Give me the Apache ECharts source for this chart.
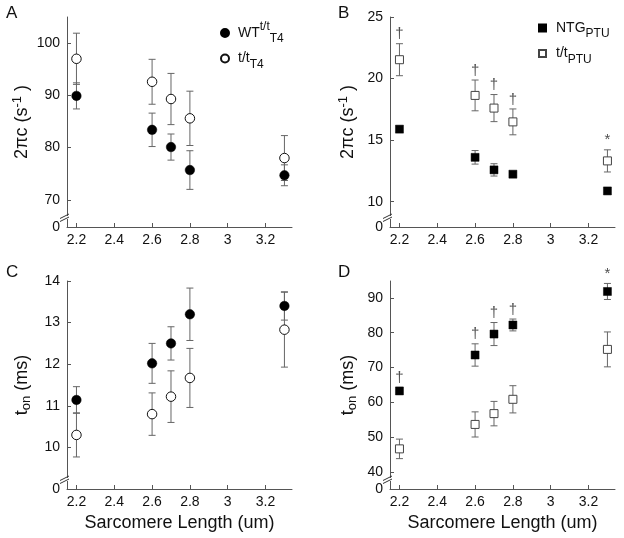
<!DOCTYPE html>
<html>
<head>
<meta charset="utf-8">
<script src="https://cdn.jsdelivr.net/npm/echarts@6/dist/echarts.min.js"></script>
<style>html,body{margin:0;padding:0;background:#fff}#c{width:624px;height:538px}</style>
</head>
<body>
<div id="c"></div>
<script>
// ---- data ----
const sarcomereLength = [2.2, 2.6, 2.7, 2.8, 3.3];
const xTicks = [2.2, 2.4, 2.6, 2.8, 3, 3.2];

// Panel A: 2πc (s^-1)
const wtRate = [89.9, 83.4, 80.1, 75.7, 74.7];
const wtRateErr = [2.5, 3.2, 2.5, 3.7, 2.0];
const ttRate = [97.0, 92.6, 89.3, 85.6, 78.0];
const ttRateErr = [4.9, 4.3, 4.9, 5.2, 4.3];
const ticksA = [70, 80, 90, 100];

// Panel B: 2πc (s^-1), PTU
const ntgRate = [15.89, 13.6, 12.58, 12.23, 10.87];
const ntgRateErr = [0.2, 0.55, 0.5, 0.15, 0.15];
const ttPtuRate = [21.53, 18.63, 17.6, 16.48, 13.31];
const ttPtuRateErr = [1.3, 1.25, 1.1, 1.05, 0.9];
const marksB = ['†', '†', '†', '†', '*'];
const ticksB = [10, 15, 20, 25];

// Panel C: t_on (ms)
const wtTon = [11.14, 12.02, 12.5, 13.2, 13.4];
const wtTonErr = [0.32, 0.48, 0.4, 0.63, 0.34];
const ttTon = [10.3, 10.8, 11.22, 11.67, 12.83];
const ttTonErr = [0.53, 0.51, 0.62, 0.71, 0.9];
const ticksC = [10, 11, 12, 13, 14];

// Panel D: t_on (ms), PTU
const ntgTon = [63.3, 73.6, 79.6, 82.2, 91.8];
const ntgTonErr = [1.0, 3.2, 3.3, 1.7, 2.3];
const ttPtuTon = [46.7, 53.7, 56.8, 60.9, 75.2];
const ttPtuTonErr = [2.8, 3.6, 3.5, 3.9, 5.0];
const marksD = ['†', '†', '†', '†', '*'];
const ticksD = [40, 50, 60, 70, 80, 90];

// broken-axis floors (labelled "0")
const yFloor = [64.8, 7.94, 9, 35.2];
const yCeil = [105, 25, 14, 94.8];
const xRange = [2.15, 3.34];

// ---- chart ----
const FONT = 'Liberation Sans, Arial, Helvetica, sans-serif';
const chart = echarts.init(document.getElementById('c'), null, {renderer: 'canvas'});

const grids = [
  {left: 67, top: 17, width: 225, height: 210},
  {left: 390, top: 17, width: 225, height: 210},
  {left: 67, top: 281, width: 225, height: 208},
  {left: 390, top: 281, width: 225, height: 208}
];
const yTicks = [ticksA, ticksB, ticksC, ticksD];
const yNames = ['2πc (s{sup|-1} )', '2πc (s{sup|-1} )', 't{sub|on} (ms)', 't{sub|on} (ms)'];
const AXIS_COLOR = '#555';

const xAxes = grids.map((g, i) => ({
  type: 'value', gridIndex: i, min: xRange[0], max: xRange[1],
  splitLine: {show: false},
  axisLine: {show: true, lineStyle: {color: AXIS_COLOR, width: 1}},
  axisTick: {show: true, inside: true, length: 4, customValues: xTicks, lineStyle: {color: AXIS_COLOR}},
  axisLabel: {customValues: xTicks, color: '#111', fontSize: 14, fontFamily: FONT, margin: 6,
              formatter: v => String(Math.round(v * 10) / 10)},
  name: i >= 2 ? 'Sarcomere Length (um)' : '',
  nameLocation: 'middle', nameGap: 25,
  nameTextStyle: {fontSize: 18, color: '#111', fontFamily: FONT}
}));

const yAxes = grids.map((g, i) => {
  const vals = [yFloor[i]].concat(yTicks[i]);
  return {
    type: 'value', gridIndex: i, min: yFloor[i], max: yCeil[i],
    splitLine: {show: false},
    axisLine: {show: true, lineStyle: {color: AXIS_COLOR, width: 1}},
    axisTick: {show: true, inside: true, length: 4, customValues: yTicks[i], lineStyle: {color: AXIS_COLOR}},
    axisLabel: {customValues: vals, color: '#111', fontSize: 14, fontFamily: FONT, margin: 7,
                formatter: v => (v <= yFloor[i] + 1e-9 ? '0' : String(v))},
    name: yNames[i], nameLocation: 'middle', nameGap: (i % 2 === 0) ? 34 : 31,
    nameTextStyle: {
      fontSize: 18, color: '#111', fontFamily: FONT, lineHeight: 22,
      rich: {
        sup: {fontSize: 13, fontFamily: FONT, color: '#111', verticalAlign: 'top', lineHeight: 12},
        sub: {fontSize: 13, fontFamily: FONT, color: '#111', verticalAlign: 'bottom', lineHeight: 12}
      }
    }
  };
});

function errData(vals, errs) {
  return sarcomereLength.map((x, k) => [x, vals[k] - errs[k], vals[k] + errs[k]]);
}
function errRender(params, api) {
  const x = api.value(0);
  const lo = api.coord([x, api.value(1)]);
  const hi = api.coord([x, api.value(2)]);
  const w = 3.5;
  const st = {stroke: '#666', lineWidth: 1};
  return {type: 'group', children: [
    {type: 'line', shape: {x1: lo[0], y1: lo[1], x2: hi[0], y2: hi[1]}, style: st},
    {type: 'line', shape: {x1: lo[0] - w, y1: lo[1], x2: lo[0] + w, y2: lo[1]}, style: st},
    {type: 'line', shape: {x1: hi[0] - w, y1: hi[1], x2: hi[0] + w, y2: hi[1]}, style: st}
  ]};
}
function errSeries(i, vals, errs) {
  return {type: 'custom', xAxisIndex: i, yAxisIndex: i, renderItem: errRender,
          data: errData(vals, errs), encode: {x: 0, y: [1, 2]}, z: 1, silent: true, clip: false};
}
function pts(vals) { return sarcomereLength.map((x, k) => [x, vals[k]]); }
function scatter(name, i, vals, symbol, filled) {
  const isSq = symbol === 'rect';
  return {
    type: 'scatter', name, xAxisIndex: i, yAxisIndex: i, data: pts(vals),
    symbol, symbolSize: isSq ? 8 : 9.5, z: 3, silent: true,
    itemStyle: filled ? {color: '#000', borderColor: '#000', borderWidth: 0.5, opacity: 1}
                      : {color: '#fff', borderColor: isSq ? '#444' : '#111', borderWidth: 1, opacity: 1}
  };
}
function sigSeries(i, vals, errs, marks) {
  return {
    type: 'scatter', xAxisIndex: i, yAxisIndex: i, z: 4, silent: true,
    data: sarcomereLength.map((x, k) => [x, vals[k] + errs[k], marks[k]]),
    symbolSize: 0, itemStyle: {color: 'rgba(0,0,0,0)'},
    label: {show: true, position: 'top', distance: 2, formatter: p => p.data[2],
            fontSize: 15, color: '#222', fontFamily: FONT}
  };
}

const legendRich = {
  m: {fontSize: 14, fontFamily: FONT, color: '#111', lineHeight: 24, verticalAlign: 'middle'},
  sup: {fontSize: 12, fontFamily: FONT, color: '#111', lineHeight: 12, verticalAlign: 'top'},
  sub: {fontSize: 12, fontFamily: FONT, color: '#111', lineHeight: 12, verticalAlign: 'bottom'}
};
const legendText = {
  wtA: '{m|WT}{sup|t/t}{sub|T4}',
  ttA: '{m|t/t}{sub|T4}',
  ntgB: '{m|NTG}{sub|PTU}',
  ttB: '{m|t/t}{sub|PTU}'
};

const option = {
  animation: false,
  backgroundColor: '#fff',
  textStyle: {fontFamily: FONT},
  title: [
    {text: 'A', left: 6, top: 5},
    {text: 'B', left: 338, top: 5},
    {text: 'C', left: 6, top: 264},
    {text: 'D', left: 338, top: 264}
  ].map(t => Object.assign(t, {padding: 0, textStyle: {fontSize: 17, fontWeight: 'normal', color: '#111', fontFamily: FONT}})),
  grid: grids,
  xAxis: xAxes,
  yAxis: yAxes,
  legend: [
    {data: ['wtA', 'ttA'], orient: 'vertical', left: 220, top: 21, padding: 0, itemGap: 6.5,
     itemWidth: 8, itemHeight: 8, formatter: n => legendText[n],
     textStyle: {rich: legendRich, padding: [0, 0, 0, 4]}, selectedMode: false},
    {data: ['ntgB', 'ttB'], orient: 'vertical', left: 538, top: 21, padding: 0, itemGap: 6.5,
     itemWidth: 7, itemHeight: 7, formatter: n => legendText[n],
     textStyle: {rich: legendRich, padding: [0, 0, 0, 5]}, selectedMode: false}
  ],
  series: [
    errSeries(0, wtRate, wtRateErr), errSeries(0, ttRate, ttRateErr),
    scatter('wtA', 0, wtRate, 'circle', true), scatter('ttA', 0, ttRate, 'circle', false),

    errSeries(1, ntgRate, ntgRateErr), errSeries(1, ttPtuRate, ttPtuRateErr),
    scatter('ntgB', 1, ntgRate, 'rect', true), scatter('ttB', 1, ttPtuRate, 'rect', false),
    sigSeries(1, ttPtuRate, ttPtuRateErr, marksB),

    errSeries(2, wtTon, wtTonErr), errSeries(2, ttTon, ttTonErr),
    scatter('wtC', 2, wtTon, 'circle', true), scatter('ttC', 2, ttTon, 'circle', false),

    errSeries(3, ntgTon, ntgTonErr), errSeries(3, ttPtuTon, ttPtuTonErr),
    scatter('ntgD', 3, ntgTon, 'rect', true), scatter('ttD', 3, ttPtuTon, 'rect', false),
    sigSeries(3, ntgTon, ntgTonErr, marksD)
  ]
};
chart.setOption(option);

// axis-break marks on each y axis
const breaks = [];
grids.forEach((g, i) => {
  const p = chart.convertToPixel({gridIndex: i}, [xRange[0], yFloor[i]]);
  const ax = p[0], yb = p[1] - 10;
  breaks.push({type: 'rect', shape: {x: ax - 1.5, y: yb - 1, width: 3, height: 3}, style: {fill: '#fff'}, z: 100, silent: true});
  breaks.push({type: 'line', shape: {x1: ax - 7, y1: yb + 1.5, x2: ax + 2, y2: yb - 3}, style: {stroke: '#333', lineWidth: 1}, z: 101, silent: true});
  breaks.push({type: 'line', shape: {x1: ax - 7, y1: yb + 4.5, x2: ax + 2, y2: yb}, style: {stroke: '#333', lineWidth: 1}, z: 101, silent: true});
});
chart.setOption({graphic: breaks});
</script>
</body>
</html>
